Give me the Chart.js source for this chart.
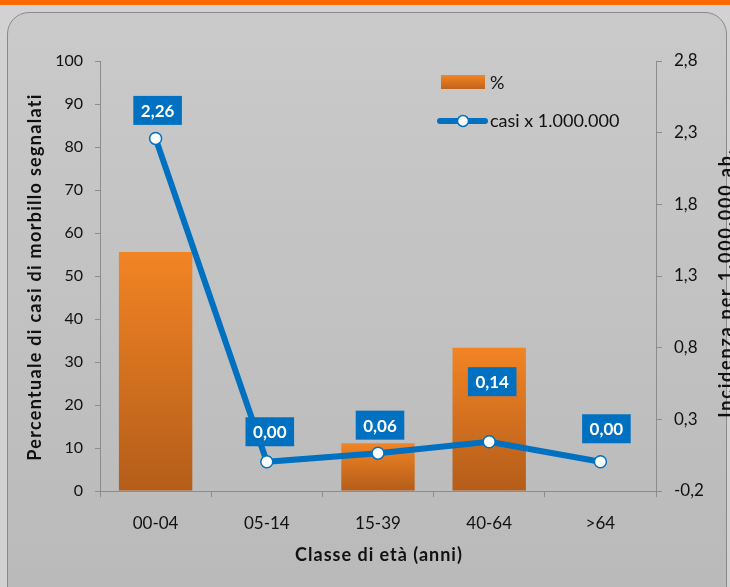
<!DOCTYPE html>
<html>
<head>
<meta charset="utf-8">
<script src="https://cdn.jsdelivr.net/npm/chart.js@4/dist/chart.umd.min.js"></script>
<style>
  html, body { margin: 0; padding: 0; }
  body {
    width: 730px; height: 587px; overflow: hidden; position: relative;
    background: #d2d2d2; font-family: Lato, sans-serif;
  }
  .topbar { position: absolute; left: 0; top: 0; width: 730px; height: 5px; background: #ff6a00; }
  .panel {
    position: absolute; left: 7px; top: 12px; width: 718px; height: 600px;
    border: 1px solid #8a8a8a; border-radius: 22px;
    background: linear-gradient(#cacaca, #b9b9b9);
  }
  .wrap { position: absolute; left: 0; top: 0; width: 730px; height: 587px; }
  canvas { display: block; }
</style>
</head>
<body>
<div class="topbar"></div>
<div class="panel"></div>
<div class="wrap"><canvas id="chart" width="730" height="587"></canvas></div>
<script>
const categories = ["00-04", "05-14", "15-39", "40-64", ">64"];
const percentValues = [55.6, 0, 11.1, 33.3, 0];
const incidenceValues = [2.26, 0.004, 0.064, 0.144, 0.004];
const leftTicks = [0, 10, 20, 30, 40, 50, 60, 70, 80, 90, 100];
const rightTicks = [-0.2, 0.3, 0.8, 1.3, 1.8, 2.3, 2.8];

const xTitle = "Classe di età (anni)";
const yTitle = "Percentuale di casi di morbillo segnalati";
const y1Title = "Incidenza per 1.000.000 ab.";

// offsets of the blue value boxes from their points (px)
const labelDx = [2, 3, 2, 3, 6];
const labelDy = [-28, -30, -28, -60, -33];

const FONT = "Lato, sans-serif";
const BLUE = "#0070c0";

function barGradient(ctx) {
  const chart = ctx.chart;
  if (!chart.chartArea || ctx.type !== "data") return "#e07020";
  const y = chart.scales.y;
  const top = y.getPixelForValue(ctx.parsed.y);
  const bottom = y.getPixelForValue(0);
  if (bottom - top < 1) return "#e07020";
  const g = chart.ctx.createLinearGradient(0, top, 0, bottom);
  g.addColorStop(0, "#f28424");
  g.addColorStop(1, "#b45d1a");
  return g;
}

function drawTitle(c, text, x, y, rot, spacing) {
  c.save();
  c.translate(x, y);
  c.rotate(rot);
  c.font = "bold 18px " + FONT;
  c.letterSpacing = spacing + "px";
  c.textAlign = "center";
  c.textBaseline = "middle";
  c.fillStyle = "#111";
  c.fillText(text, 0, 0);
  c.restore();
}

const decorations = {
  id: "decorations",
  afterDraw(chart) {
    const c = chart.ctx;
    const meta = chart.getDatasetMeta(1);
    c.save();
    // value labels
    meta.data.forEach((pt, i) => {
      const text = incidenceValues[i].toFixed(2).replace(".", ",");
      const cx = pt.x + labelDx[i];
      const cy = pt.y + labelDy[i];
      c.font = "bold 17px " + FONT;
      const w = c.measureText(text).width + 15;
      const h = 29;
      c.fillStyle = BLUE;
      c.fillRect(cx - w / 2, cy - h / 2, w, h);
      c.fillStyle = "#ffffff";
      c.textAlign = "center";
      c.textBaseline = "middle";
      c.fillText(text, cx, cy + 1);
    });

    // legend
    const lg = c.createLinearGradient(0, 75, 0, 89);
    lg.addColorStop(0, "#f28424");
    lg.addColorStop(1, "#c0641c");
    c.fillStyle = lg;
    c.fillRect(441, 75, 44, 14);
    c.font = "18px " + FONT;
    c.fillStyle = "#111";
    c.textAlign = "left";
    c.textBaseline = "middle";
    c.fillText(chart.data.datasets[0].label, 490, 83);

    c.strokeStyle = BLUE;
    c.lineWidth = 6;
    c.lineCap = "round";
    c.beginPath();
    c.moveTo(440, 121);
    c.lineTo(485, 121);
    c.stroke();
    c.beginPath();
    c.arc(463, 121, 5.5, 0, Math.PI * 2);
    c.fillStyle = "#fff";
    c.fill();
    c.lineWidth = 1.5;
    c.stroke();
    c.fillStyle = "#111";
    c.fillText(chart.data.datasets[1].label, 490, 121);
    c.restore();

    // axis titles
    drawTitle(c, yTitle, 35, 277, -Math.PI / 2, 1.3);
    drawTitle(c, xTitle, 379, 555, 0, 1);
    drawTitle(c, y1Title, 726, 283, -Math.PI / 2, 1.8);
  },
};

new Chart(document.getElementById("chart"), {
  type: "bar",
  data: {
    labels: categories,
    datasets: [
      {
        label: "%",
        data: percentValues,
        backgroundColor: barGradient,
        categoryPercentage: 1,
        barPercentage: 0.66,
        yAxisID: "y",
        order: 2,
      },
      {
        label: "casi x 1.000.000",
        type: "line",
        data: incidenceValues,
        borderColor: BLUE,
        borderWidth: 6,
        tension: 0,
        pointRadius: 6,
        pointBorderWidth: 1.5,
        pointBackgroundColor: "#ffffff",
        pointBorderColor: BLUE,
        yAxisID: "y1",
        order: 1,
      },
    ],
  },
  options: {
    responsive: false,
    animation: false,
    devicePixelRatio: 1,
    layout: { padding: { top: 61, left: 0, right: 0, bottom: 0 } },
    plugins: {
      legend: { display: false },
      tooltip: { enabled: false },
    },
    scales: {
      x: {
        afterFit: (s) => { s.height = 96; },
        grid: { offset: true, drawOnChartArea: false, color: "#8c8c8c", tickLength: 6 },
        border: { color: "#8c8c8c" },
        ticks: { color: "#111", font: { family: FONT, size: 17 }, padding: 16 },
      },
      y: {
        position: "left",
        min: 0,
        max: 100,
        afterFit: (s) => { s.width = 100; },
        afterBuildTicks: (s) => { s.ticks = leftTicks.map((v) => ({ value: v })); },
        grid: { drawOnChartArea: false, color: "#8c8c8c", tickLength: 5 },
        border: { color: "#8c8c8c" },
        ticks: { color: "#111", font: { family: FONT, size: 16 }, padding: 12 },
      },
      y1: {
        position: "right",
        min: -0.2,
        max: 2.8,
        afterFit: (s) => { s.width = 74; },
        afterBuildTicks: (s) => { s.ticks = rightTicks.map((v) => ({ value: v })); },
        grid: { drawOnChartArea: false, color: "#8c8c8c", tickLength: 6 },
        border: { color: "#8c8c8c" },
        ticks: {
          color: "#111",
          font: { family: FONT, size: 17 },
          padding: 12,
          callback: (v) => v.toFixed(1).replace(".", ","),
        },
      },
    },
  },
  plugins: [decorations],
});
</script>
</body>
</html>
